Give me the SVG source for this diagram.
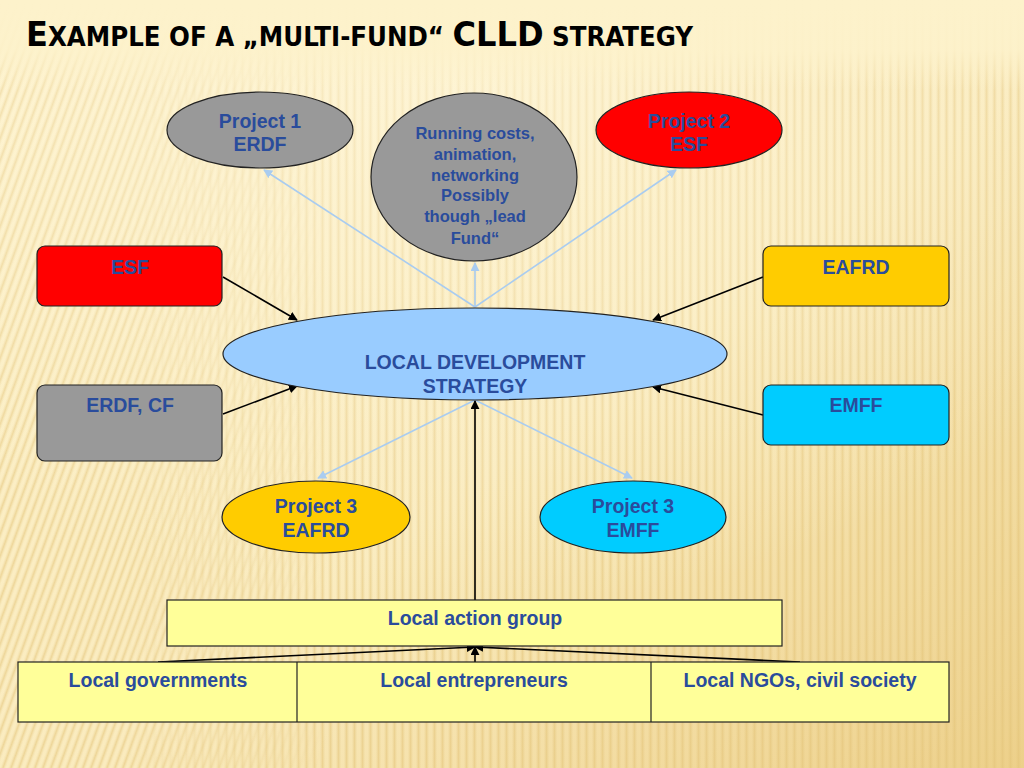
<svg xmlns="http://www.w3.org/2000/svg" width="1024" height="768" viewBox="0 0 1024 768">
<defs>
<linearGradient id="bg" x1="0" y1="0" x2="1" y2="1">
<stop offset="0" stop-color="#FDF2CC"/>
<stop offset="0.55" stop-color="#FAEBBE"/>
<stop offset="1" stop-color="#EDD08A"/>
</linearGradient>
<radialGradient id="glow" cx="0.45" cy="0.05" r="0.75">
<stop offset="0" stop-color="#FFF7DC" stop-opacity="0.7"/>
<stop offset="1" stop-color="#FFF7DC" stop-opacity="0"/>
</radialGradient>
<linearGradient id="stripeFill" x1="0" y1="0" x2="1" y2="0">
<stop offset="0" stop-color="#E3C47A" stop-opacity="0"/>
<stop offset="0.5" stop-color="#E3C47A" stop-opacity="0.55"/>
<stop offset="1" stop-color="#E3C47A" stop-opacity="0"/>
</linearGradient>
<pattern id="vs" width="8" height="40" patternUnits="userSpaceOnUse">
<rect x="0" y="0" width="5" height="40" fill="url(#stripeFill)"/>
</pattern>
<pattern id="ds" width="8" height="40" patternUnits="userSpaceOnUse" patternTransform="skewX(-20)">
<rect x="0" y="0" width="5" height="40" fill="url(#stripeFill)"/>
</pattern>
<linearGradient id="mR" x1="0" y1="0" x2="1" y2="0">
<stop offset="0.12" stop-color="#fff" stop-opacity="0"/>
<stop offset="0.32" stop-color="#fff" stop-opacity="1"/>
</linearGradient>
<linearGradient id="mL" x1="0" y1="0" x2="1" y2="0">
<stop offset="0.12" stop-color="#fff" stop-opacity="1"/>
<stop offset="0.32" stop-color="#fff" stop-opacity="0"/>
</linearGradient>
<mask id="maskR" maskUnits="userSpaceOnUse" x="0" y="0" width="1024" height="768"><rect width="1024" height="768" fill="url(#mR)"/></mask>
<mask id="maskL" maskUnits="userSpaceOnUse" x="0" y="0" width="1024" height="768"><rect width="1024" height="768" fill="url(#mL)"/></mask>
<linearGradient id="topfade" x1="0" y1="0" x2="0" y2="1">
<stop offset="0" stop-color="#FDF2CB" stop-opacity="1"/>
<stop offset="0.55" stop-color="#FDF2CB" stop-opacity="0.9"/>
<stop offset="1" stop-color="#FDF2CB" stop-opacity="0"/>
</linearGradient>
<marker id="ab" viewBox="0 0 10 10" refX="9" refY="5" markerWidth="9" markerHeight="9" markerUnits="userSpaceOnUse" orient="auto">
<path d="M0,0 L10,5 L0,10 z" fill="#000"/>
</marker>
<marker id="al" viewBox="0 0 10 10" refX="9" refY="5" markerWidth="9" markerHeight="9" markerUnits="userSpaceOnUse" orient="auto">
<path d="M0,0 L10,5 L0,10 z" fill="#A9CCF0"/>
</marker>
</defs>
<style>
.t{font-family:"Liberation Sans",Arial,sans-serif;font-weight:bold;fill:#2A4C9C;text-anchor:middle;font-size:19.5px}
.s{font-size:16.5px}
.n{stroke:#222;stroke-width:1.2}
.blk{stroke:#000;stroke-width:1.6;fill:none;marker-end:url(#ab)}
.lb{stroke:#A9CCF0;stroke-width:1.6;fill:none;marker-end:url(#al)}
.title{font-family:"DejaVu Sans Condensed","DejaVu Sans",sans-serif;font-weight:bold;fill:#000}
</style>
<rect width="1024" height="768" fill="url(#bg)"/>
<rect width="1024" height="768" fill="url(#vs)" mask="url(#maskR)"/>
<rect width="1024" height="768" fill="url(#ds)" mask="url(#maskL)"/>
<rect width="1024" height="768" fill="url(#glow)"/>
<rect width="1024" height="90" fill="url(#topfade)"/>
<text class="title" x="26" y="46" textLength="667" lengthAdjust="spacingAndGlyphs"><tspan font-size="34">E</tspan><tspan font-size="26">XAMPLE OF A „MULTI-FUND“ </tspan><tspan font-size="34">CLLD</tspan><tspan font-size="26"> STRATEGY</tspan></text>

<g id="connectors">
<line class="lb" x1="475" y1="307" x2="264" y2="170"/>
<line class="lb" x1="475" y1="307" x2="475" y2="263"/>
<line class="lb" x1="475" y1="307" x2="676" y2="170"/>
<line class="lb" x1="475" y1="400" x2="318" y2="478"/>
<line class="lb" x1="475" y1="400" x2="632" y2="478"/>
<line class="blk" x1="223" y1="277" x2="297" y2="320"/>
<line class="blk" x1="223" y1="414" x2="297" y2="386"/>
<line class="blk" x1="763" y1="277" x2="653" y2="320"/>
<line class="blk" x1="763" y1="415" x2="653" y2="387"/>
<line class="blk" x1="475" y1="600" x2="475" y2="401"/>
<line class="blk" x1="158" y1="662" x2="475" y2="647"/>
<line class="blk" x1="475" y1="662" x2="475" y2="647"/>
<line class="blk" x1="800" y1="662" x2="475" y2="647"/>
</g>

<g id="project1"><ellipse class="n" cx="260" cy="130" rx="93" ry="38" fill="#999999"/><text class="t" x="260" y="128">Project 1</text><text class="t" x="260" y="151">ERDF</text></g>
<g id="running"><ellipse class="n" cx="474" cy="177" rx="103" ry="84" fill="#999999"/>
<text class="t s" x="475" y="139">Running costs,</text><text class="t s" x="475" y="160">animation,</text><text class="t s" x="475" y="181">networking</text><text class="t s" x="475" y="201">Possibly</text><text class="t s" x="475" y="222">though „lead</text><text class="t s" x="475" y="244">Fund“</text></g>
<g id="project2"><ellipse class="n" cx="689" cy="130" rx="93" ry="38" fill="#FF0000"/><text class="t" x="689" y="128">Project 2</text><text class="t" x="689" y="151">ESF</text></g>
<g id="esf"><rect class="n" x="37" y="246" width="185" height="60" rx="8" fill="#FF0000"/><text class="t" x="130" y="274">ESF</text></g>
<g id="eafrd"><rect class="n" x="763" y="246" width="186" height="60" rx="8" fill="#FFCC00"/><text class="t" x="856" y="274">EAFRD</text></g>
<g id="erdfcf"><rect class="n" x="37" y="385" width="185" height="76" rx="8" fill="#999999"/><text class="t" x="130" y="412">ERDF, CF</text></g>
<g id="emff"><rect class="n" x="763" y="385" width="186" height="60" rx="8" fill="#00CCFF"/><text class="t" x="856" y="412">EMFF</text></g>
<g id="lds"><ellipse class="n" cx="475" cy="354" rx="252" ry="46" fill="#99CCFF"/><text class="t" x="475" y="369">LOCAL DEVELOPMENT</text><text class="t" x="475" y="393">STRATEGY</text></g>
<g id="p3eafrd"><ellipse class="n" cx="316" cy="517" rx="94" ry="36" fill="#FFCC00"/><text class="t" x="316" y="513">Project 3</text><text class="t" x="316" y="537">EAFRD</text></g>
<g id="p3emff"><ellipse class="n" cx="633" cy="517" rx="93" ry="36" fill="#00CCFF"/><text class="t" x="633" y="513">Project 3</text><text class="t" x="633" y="537">EMFF</text></g>
<g id="lag"><rect class="n" x="167" y="600" width="615" height="46" fill="#FFFF99"/><text class="t" x="475" y="625">Local action group</text></g>
<g id="members">
<rect class="n" x="18" y="662" width="931" height="60" fill="#FFFF99"/>
<line class="n" x1="297" y1="662" x2="297" y2="722"/>
<line class="n" x1="651" y1="662" x2="651" y2="722"/>
<text class="t" x="158" y="687">Local governments</text>
<text class="t" x="474" y="687">Local entrepreneurs</text>
<text class="t" x="800" y="687">Local NGOs, civil society</text>
</g>
</svg>
